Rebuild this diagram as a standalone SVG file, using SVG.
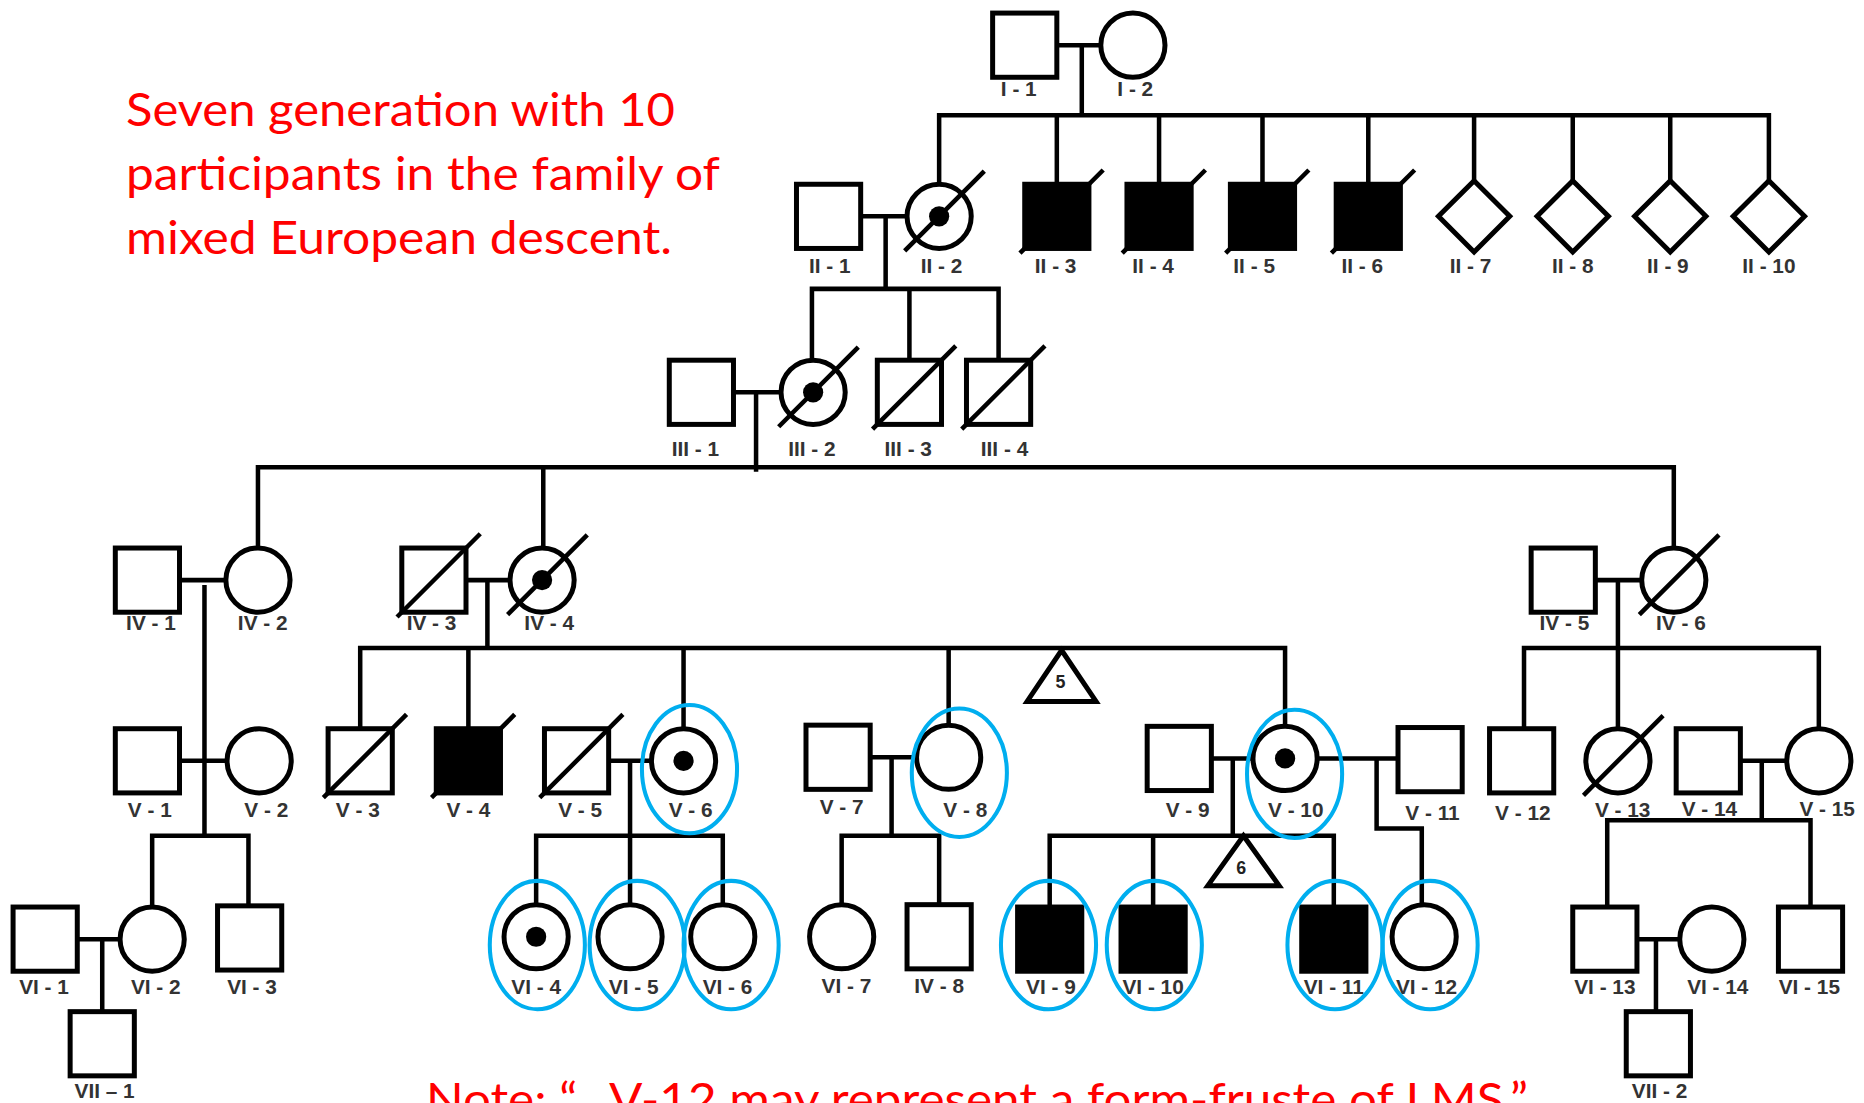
<svg xmlns="http://www.w3.org/2000/svg" xmlns:xlink="http://www.w3.org/1999/xlink" width="1864" height="1103" viewBox="0 0 1864 1103">
<style>
.s{fill:#fff;stroke:#000;stroke-width:4.2}
.f{fill:#000;stroke:#000;stroke-width:4.2}
.k{fill:#000;stroke:none}
.d{stroke:#000;stroke-width:3.8;fill:none}
.l{stroke:#000;stroke-width:3.8;fill:none;stroke-linecap:square}
.e{fill:none;stroke:#00AEEF;stroke-width:3.4}
.lb{font-family:"Liberation Sans",Arial,sans-serif;font-size:17.5px;font-weight:bold;fill:#333;text-anchor:middle}
.tn{font-family:"Liberation Sans",Arial,sans-serif;font-size:15px;font-weight:bold;fill:#222;text-anchor:middle}
.red{font-family:Lato,"Open Sans",sans-serif;font-size:46px;fill:#FF0000}
</style>
<defs>
<rect id="sq" x="-27" y="-27" width="54" height="54"/>
<circle id="ci" r="27"/>
<path id="di" d="M0,-30 L30,0 L0,30 L-30,0Z"/>
<line id="sls" x1="-31" y1="31" x2="39" y2="-39"/>
<line id="slc" x1="-29" y1="29" x2="38" y2="-38"/>
<circle id="dot" r="8.5"/>
<ellipse id="ov" rx="40" ry="54"/>
</defs>
<rect width="1864" height="1103" fill="#fff"/>
<g id="title">
<text class="red" x="126" y="126" textLength="549" lengthAdjust="spacingAndGlyphs">Seven generation with 10</text>
<text class="red" x="126" y="190" textLength="594" lengthAdjust="spacingAndGlyphs">participants in the family of</text>
<text class="red" x="126" y="254" textLength="546" lengthAdjust="spacingAndGlyphs">mixed European descent.</text>
</g>
<g id="note">
<text class="red" x="426" y="1116" textLength="1102" lengthAdjust="spacingAndGlyphs">Note: “…V-12 may represent a form-fruste of LMS.”</text>
</g>
<g transform="scale(1.18878)">
<g id="connectors" class="l">
<path d="M889,38H926M910,38V97M790,97H1488M790,97V155M889,97V155M975,97V155M1062,97V155M1151,97V155M1240,97V152M1323,97V152M1405,97V152M1488,97V152"/>
<path d="M724,182H763M745,182V243M683,243H840M683,243V303M765,243V303M840,243V303"/>
<path d="M617,330H657M636,330V395M217,393H1408M217,393V461M457,393V461M1408,393V461"/>
<path d="M150,488H190M172,494V703M392,488H429M410,488V545M303,545H1080M303,545V613M394,545V613M575,545V613M798,545V610M1081,545V611"/>
<path d="M1342,488H1381M1361,488V613M1282,545H1530M1282,545V613M1530,545V613"/>
<path d="M150,640H191M130,703H209M128,703V763M209,703V762"/>
<path d="M512,640H548M530,640V703M451,703H608M451,703V761M530,703V761M608,703V761"/>
<path d="M732,637H771M750,637V703M708,703H790M708,703V761M790,703V761"/>
<path d="M1019,638H1054M1037,638V703M883,703H1122M883,703V763M970,703V763M1122,703V763"/>
<path d="M1108,638H1176M1158,638V697H1196V761"/>
<path d="M1464,640H1503M1482,640V690M1352,690H1523M1352,690V763M1523,690V763"/>
<path d="M65,790H101M86,790V851M1377,790H1413M1393,790V851"/>
</g>
<g id="I-1"><use href="#sq" x="862" y="38" class="s"/><text class="lb" x="857" y="81">I - 1</text></g>
<g id="I-2"><use href="#ci" x="953" y="38" class="s"/><text class="lb" x="955" y="81">I - 2</text></g>
<g id="II-1"><use href="#sq" x="697" y="182" class="s"/><text class="lb" x="698" y="230">II - 1</text></g>
<g id="II-2"><use href="#ci" x="790" y="182" class="s"/><use href="#dot" x="790" y="182" class="k"/><use href="#slc" x="790" y="182" class="d"/><text class="lb" x="792" y="230">II - 2</text></g>
<g id="II-3"><use href="#sq" x="889" y="182" class="f"/><use href="#sls" x="889" y="182" class="d"/><text class="lb" x="888" y="230">II - 3</text></g>
<g id="II-4"><use href="#sq" x="975" y="182" class="f"/><use href="#sls" x="975" y="182" class="d"/><text class="lb" x="970" y="230">II - 4</text></g>
<g id="II-5"><use href="#sq" x="1062" y="182" class="f"/><use href="#sls" x="1062" y="182" class="d"/><text class="lb" x="1055" y="230">II - 5</text></g>
<g id="II-6"><use href="#sq" x="1151" y="182" class="f"/><use href="#sls" x="1151" y="182" class="d"/><text class="lb" x="1146" y="230">II - 6</text></g>
<g id="II-7"><use href="#di" x="1240" y="182" class="s"/><text class="lb" x="1237" y="230">II - 7</text></g>
<g id="II-8"><use href="#di" x="1323" y="182" class="s"/><text class="lb" x="1323" y="230">II - 8</text></g>
<g id="II-9"><use href="#di" x="1405" y="182" class="s"/><text class="lb" x="1403" y="230">II - 9</text></g>
<g id="II-10"><use href="#di" x="1488" y="182" class="s"/><text class="lb" x="1488" y="230">II - 10</text></g>
<g id="III-1"><use href="#sq" x="590" y="330" class="s"/><text class="lb" x="585" y="384">III - 1</text></g>
<g id="III-2"><use href="#ci" x="684" y="330" class="s"/><use href="#dot" x="684" y="330" class="k"/><use href="#slc" x="684" y="330" class="d"/><text class="lb" x="683" y="384">III - 2</text></g>
<g id="III-3"><use href="#sq" x="765" y="330" class="s"/><use href="#sls" x="765" y="330" class="d"/><text class="lb" x="764" y="384">III - 3</text></g>
<g id="III-4"><use href="#sq" x="840" y="330" class="s"/><use href="#sls" x="840" y="330" class="d"/><text class="lb" x="845" y="384">III - 4</text></g>
<g id="IV-1"><use href="#sq" x="124" y="488" class="s"/><text class="lb" x="127" y="530">IV - 1</text></g>
<g id="IV-2"><use href="#ci" x="217" y="488" class="s"/><text class="lb" x="221" y="530">IV - 2</text></g>
<g id="IV-3"><use href="#sq" x="365" y="488" class="s"/><use href="#sls" x="365" y="488" class="d"/><text class="lb" x="363" y="530">IV - 3</text></g>
<g id="IV-4"><use href="#ci" x="456" y="488" class="s"/><use href="#dot" x="456" y="488" class="k"/><use href="#slc" x="456" y="488" class="d"/><text class="lb" x="462" y="530">IV - 4</text></g>
<g id="IV-5"><use href="#sq" x="1315" y="488" class="s"/><text class="lb" x="1316" y="530">IV - 5</text></g>
<g id="IV-6"><use href="#ci" x="1408" y="488" class="s"/><use href="#slc" x="1408" y="488" class="d"/><text class="lb" x="1414" y="530">IV - 6</text></g>
<g id="sibs-5"><path d="M893,547 L922,590 L864,590Z" class="s"/><text class="tn" x="892" y="579">5</text></g>
<g id="V-1"><use href="#sq" x="124" y="640" class="s"/><text class="lb" x="126" y="687">V - 1</text></g>
<g id="V-2"><use href="#ci" x="218" y="640" class="s"/><text class="lb" x="224" y="687">V - 2</text></g>
<g id="V-3"><use href="#sq" x="303" y="640" class="s"/><use href="#sls" x="303" y="640" class="d"/><text class="lb" x="301" y="687">V - 3</text></g>
<g id="V-4"><use href="#sq" x="394" y="640" class="f"/><use href="#sls" x="394" y="640" class="d"/><text class="lb" x="394" y="687">V - 4</text></g>
<g id="V-5"><use href="#sq" x="485" y="640" class="s"/><use href="#sls" x="485" y="640" class="d"/><text class="lb" x="488" y="687">V - 5</text></g>
<g id="V-6"><use href="#ci" x="575" y="640" class="s"/><use href="#dot" x="575" y="640" class="k"/><text class="lb" x="581" y="687">V - 6</text><use href="#ov" x="580" y="647" class="e"/></g>
<g id="V-7"><use href="#sq" x="705" y="637" class="s"/><text class="lb" x="708" y="685">V - 7</text></g>
<g id="V-8"><use href="#ci" x="798" y="637" class="s"/><text class="lb" x="812" y="687">V - 8</text><use href="#ov" x="807" y="650" class="e"/></g>
<g id="V-9"><use href="#sq" x="992" y="638" class="s"/><text class="lb" x="999" y="687">V - 9</text></g>
<g id="V-10"><use href="#ci" x="1081" y="638" class="s"/><use href="#dot" x="1081" y="638" class="k"/><text class="lb" x="1090" y="687">V - 10</text><use href="#ov" x="1089" y="651" class="e"/></g>
<g id="V-11"><use href="#sq" x="1203" y="639" class="s"/><text class="lb" x="1205" y="690">V - 11</text></g>
<g id="V-12"><use href="#sq" x="1280" y="640" class="s"/><text class="lb" x="1281" y="690">V - 12</text></g>
<g id="V-13"><use href="#ci" x="1361" y="640" class="s"/><use href="#slc" x="1361" y="640" class="d"/><text class="lb" x="1365" y="687">V - 13</text></g>
<g id="V-14"><use href="#sq" x="1437" y="640" class="s"/><text class="lb" x="1438" y="686">V - 14</text></g>
<g id="V-15"><use href="#ci" x="1530" y="640" class="s"/><text class="lb" x="1537" y="686">V - 15</text></g>
<g id="sibs-6"><path d="M1046,703 L1076,745 L1016,745Z" class="s"/><text class="tn" x="1044" y="735">6</text></g>
<g id="VI-1"><use href="#sq" x="38" y="790" class="s"/><text class="lb" x="37" y="836">VI - 1</text></g>
<g id="VI-2"><use href="#ci" x="128" y="790" class="s"/><text class="lb" x="131" y="836">VI - 2</text></g>
<g id="VI-3"><use href="#sq" x="210" y="789" class="s"/><text class="lb" x="212" y="836">VI - 3</text></g>
<g id="VI-4"><use href="#ci" x="451" y="788" class="s"/><use href="#dot" x="451" y="788" class="k"/><text class="lb" x="451" y="836">VI - 4</text><use href="#ov" x="452" y="795" class="e"/></g>
<g id="VI-5"><use href="#ci" x="530" y="788" class="s"/><text class="lb" x="533" y="836">VI - 5</text><use href="#ov" x="536" y="795" class="e"/></g>
<g id="VI-6"><use href="#ci" x="608" y="788" class="s"/><text class="lb" x="612" y="836">VI - 6</text><use href="#ov" x="615" y="795" class="e"/></g>
<g id="VI-7"><use href="#ci" x="708" y="788" class="s"/><text class="lb" x="712" y="835">VI - 7</text></g>
<g id="VI-8"><use href="#sq" x="790" y="788" class="s"/><text class="lb" x="790" y="835">IV - 8</text></g>
<g id="VI-9"><use href="#sq" x="883" y="790" class="f"/><text class="lb" x="884" y="836">VI - 9</text><use href="#ov" x="882" y="795" class="e"/></g>
<g id="VI-10"><use href="#sq" x="970" y="790" class="f"/><text class="lb" x="970" y="836">VI - 10</text><use href="#ov" x="971" y="795" class="e"/></g>
<g id="VI-11"><use href="#sq" x="1122" y="790" class="f"/><text class="lb" x="1122" y="836">VI - 11</text><use href="#ov" x="1123" y="795" class="e"/></g>
<g id="VI-12"><use href="#ci" x="1198" y="788" class="s"/><text class="lb" x="1200" y="836">VI - 12</text><use href="#ov" x="1203" y="795" class="e"/></g>
<g id="VI-13"><use href="#sq" x="1350" y="790" class="s"/><text class="lb" x="1350" y="836">VI - 13</text></g>
<g id="VI-14"><use href="#ci" x="1440" y="790" class="s"/><text class="lb" x="1445" y="836">VI - 14</text></g>
<g id="VI-15"><use href="#sq" x="1523" y="790" class="s"/><text class="lb" x="1522" y="836">VI - 15</text></g>
<g id="VII-1"><use href="#sq" x="86" y="878" class="s"/><text class="lb" x="88" y="924">VII – 1</text></g>
<g id="VII-2"><use href="#sq" x="1395" y="878" class="s"/><text class="lb" x="1396" y="924">VII - 2</text></g>
</g>
</svg>
